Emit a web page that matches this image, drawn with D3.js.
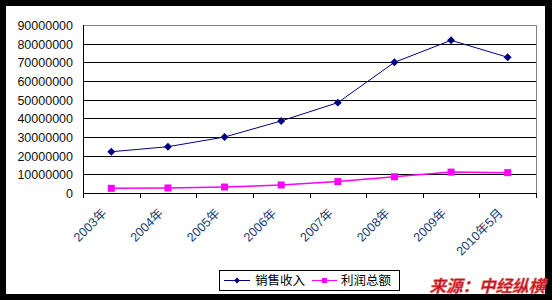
<!DOCTYPE html>
<html>
<head>
<meta charset="utf-8">
<script src="https://cdn.jsdelivr.net/npm/d3@7"></script>
<style>
  body { margin: 0; background: #000; }
  svg { display: block; }
</style>
</head>
<body>
<div id="chart"></div>
<script>
    const years = ["2003年", "2004年", "2005年", "2006年", "2007年", "2008年", "2009年", "2010年5月"];
    const sales = [22100000, 24800000, 30000000, 38600000, 48400000, 70000000, 81800000, 72700000];
    const profit = [2500000, 2700000, 3200000, 4300000, 6100000, 8700000, 11200000, 10900000];
    const yTicks = [0, 10000000, 20000000, 30000000, 40000000, 50000000, 60000000, 70000000, 80000000, 90000000];

    const w = 552;
    const h = 300;
    const plotL = 83, plotR = 536, plotT = 25, plotB = 193;

    const svg = d3.select('#chart')
        .append('svg')
        .attr('width', w)
        .attr('height', h);

    // white canvas inside the black frame
    svg.append('rect')
        .attr('x', 6).attr('y', 6)
        .attr('width', 539).attr('height', 288)
        .attr('fill', '#fff');

    const xScale = d3.scaleBand()
        .domain(years)
        .range([plotL, plotR]);

    const yScale = d3.scaleLinear()
        .domain([0, 90000000])
        .range([plotB, plotT]);

    // gridlines
    svg.append('g')
        .selectAll('line')
        .data(yTicks.slice(1, -1))
        .enter()
        .append('line')
        .attr('x1', plotL).attr('x2', plotR)
        .attr('y1', (d) => Math.round(yScale(d)) + 0.5)
        .attr('y2', (d) => Math.round(yScale(d)) + 0.5)
        .attr('stroke', '#000')
        .attr('stroke-width', 1);

    // plot border (top/right grey)
    svg.append('path')
        .attr('d', `M${plotL},${plotT + 0.5}H${plotR + 0.5}V${plotB}`)
        .attr('fill', 'none')
        .attr('stroke', '#808080');

    // y axis
    svg.append('line')
        .attr('x1', plotL + 0.5).attr('x2', plotL + 0.5)
        .attr('y1', plotT).attr('y2', plotB + 0.5)
        .attr('stroke', '#000');

    svg.append('g')
        .selectAll('text')
        .data(yTicks)
        .enter()
        .append('text')
        .attr('x', 73)
        .attr('y', (d) => yScale(d) + 5)
        .attr('text-anchor', 'end')
        .style('font-family', '"Liberation Sans", Arial, sans-serif')
        .style('font-size', '12.5px')
        .attr('fill', '#111')
        .text((d) => d);

    // x axis
    svg.append('line')
        .attr('x1', plotL).attr('x2', plotR + 1)
        .attr('y1', plotB + 0.5).attr('y2', plotB + 0.5)
        .attr('stroke', '#000');

    const boundaries = years.map((d) => xScale(d)).concat([plotR]);
    svg.append('g')
        .selectAll('line')
        .data(boundaries)
        .enter()
        .append('line')
        .attr('x1', (d) => Math.round(d) + 0.5)
        .attr('x2', (d) => Math.round(d) + 0.5)
        .attr('y1', plotB).attr('y2', plotB + 5)
        .attr('stroke', '#000');

    svg.append('g')
        .selectAll('text')
        .data(years)
        .enter()
        .append('text')
        .attr('transform', (d) => 'translate(' + (xScale(d) + xScale.bandwidth() / 2 - 4) + ',' + 214 + ') rotate(-45)')
        .attr('text-anchor', 'end')
        .style('font-family', '"Liberation Sans", "Noto Sans CJK SC", sans-serif')
        .style('font-size', '12.5px')
        .attr('fill', '#1a3c6e')
        .text((d) => d);

    const cx = (i) => xScale(years[i]) + xScale.bandwidth() / 2;

    const line = d3.line()
        .x((d, i) => cx(i))
        .y((d) => yScale(d));

    svg.append('path')
        .datum(sales)
        .attr('d', line)
        .attr('fill', 'none')
        .attr('stroke', '#000080')
        .attr('stroke-width', 1);

    svg.append('path')
        .datum(profit)
        .attr('d', line)
        .attr('fill', 'none')
        .attr('stroke', '#ff00ff')
        .attr('stroke-width', 1.5);

    const diamond = d3.symbol().type(d3.symbolDiamond2).size(40);

    svg.append('g')
        .selectAll('path')
        .data(sales)
        .enter()
        .append('path')
        .attr('d', diamond)
        .attr('transform', (d, i) => 'translate(' + cx(i) + ',' + yScale(d) + ')')
        .attr('fill', '#000080');

    svg.append('g')
        .selectAll('rect')
        .data(profit)
        .enter()
        .append('rect')
        .attr('x', (d, i) => cx(i) - 3.5)
        .attr('y', (d) => yScale(d) - 3.5)
        .attr('width', 7)
        .attr('height', 7)
        .attr('fill', '#ff00ff');

    // legend
    const legend = svg.append('g');
    legend.append('rect')
        .attr('x', 219.5).attr('y', 270.5)
        .attr('width', 180).attr('height', 20)
        .attr('fill', '#fff')
        .attr('stroke', '#000');

    legend.append('line')
        .attr('x1', 224).attr('x2', 250).attr('y1', 280.5).attr('y2', 280.5)
        .attr('stroke', '#000080');
    legend.append('path')
        .attr('d', d3.symbol().type(d3.symbolDiamond2).size(22))
        .attr('transform', 'translate(237,280.5)')
        .attr('fill', '#000080');
    legend.append('text')
        .attr('x', 255).attr('y', 285)
        .style('font-family', '"Noto Sans CJK SC", sans-serif')
        .style('font-size', '12.5px')
        .text('销售收入');

    legend.append('line')
        .attr('x1', 312).attr('x2', 337).attr('y1', 280.5).attr('y2', 280.5)
        .attr('stroke', '#ff00ff');
    legend.append('rect')
        .attr('x', 322).attr('y', 278).attr('width', 5).attr('height', 5)
        .attr('fill', '#ff00ff');
    legend.append('text')
        .attr('x', 341).attr('y', 285)
        .style('font-family', '"Noto Sans CJK SC", sans-serif')
        .style('font-size', '12.5px')
        .text('利润总额');

    svg.append('text')
        .attr('x', 545).attr('y', 292)
        .attr('text-anchor', 'end')
        .style('font-family', '"Noto Sans CJK SC", sans-serif')
        .style('font-size', '16.5px')
        .style('font-weight', 'bold')
        .style('font-style', 'italic')
        .attr('fill', '#c0141e')
        .attr('stroke', '#e06060')
        .attr('stroke-width', 0.5)
        .text('来源：中经纵横');
</script>
</body>
</html>
